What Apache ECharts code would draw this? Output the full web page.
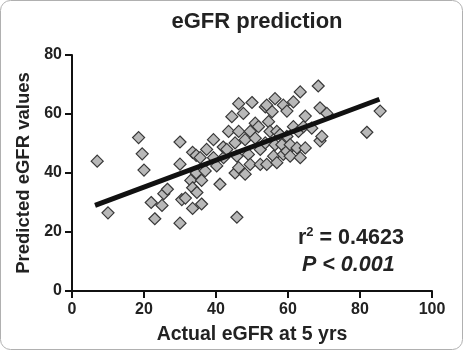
<!DOCTYPE html>
<html>
<head>
<meta charset="utf-8">
<script src="https://cdn.jsdelivr.net/npm/echarts@6/dist/echarts.min.js"></script>
<style>
  html, body { margin: 0; padding: 0; background: #fff; }
  #chart { width: 463px; height: 350px; }
</style>
</head>
<body>
<div id="chart"></div>
<script>
// actual eGFR at 5 yrs vs predicted eGFR
const points = [
  [7, 44], [10, 26.5], [18.5, 52], [19.5, 46.5], [20, 41], [22, 30], [23, 24.5],
  [25, 29], [25.5, 33], [26.5, 34.5], [30, 50.5], [30, 43], [30, 23], [30.5, 31],
  [31.5, 31.5], [33.5, 47], [33, 37.5], [33.5, 35], [33.5, 28], [34.5, 40], [34.5, 46],
  [36, 37.5], [36, 29.5], [34.7, 33.4], [35.6, 45.2], [37, 40.7], [37.4, 48],
  [39.3, 51.3], [39.3, 45.2], [40.2, 42.4], [41.1, 36.2], [42.1, 45.2], [42, 48.8],
  [43, 48], [43.5, 54.1], [44.4, 59.1], [45.3, 50.2], [45.3, 40], [45.8, 45.7],
  [45.8, 25], [46.3, 63.5], [46.3, 54.1], [46.3, 41.8], [47.6, 60.2], [48.1, 51.3],
  [48.1, 39.6], [49, 46.3], [49.5, 54.1], [49.5, 42.9], [50, 63.9], [50.9, 56.9],
  [50.9, 51.8], [51.8, 55.7], [52.3, 48], [52.3, 42.9], [53.7, 62.4], [53.7, 50.2],
  [54.1, 63], [54.1, 42.9], [54.6, 57.4], [55, 54.1], [55.6, 60.8], [56, 45.7],
  [56.4, 65.2], [56.4, 49.6], [56.9, 43.5], [56.9, 54.1], [57.8, 53], [58.3, 49.6],
  [58.7, 63], [58.7, 46.3], [59.7, 61], [59.7, 52.4], [59.7, 47.4], [60.6, 49.6],
  [60.6, 45.7], [61.5, 64.1], [61.5, 55.7], [62.5, 48.5], [62.9, 54.1], [63.4, 67.5],
  [63.4, 45.2], [64.3, 55.7], [64.8, 59.3], [64.8, 48.5], [66.6, 55.2], [68.4, 69.5],
  [68.9, 62.1], [68.9, 50.9], [69.4, 52.4], [70.8, 60.2], [81.9, 53.8], [85.6, 61]
];
// ends of the fitted regression line
const fitLine = [[6.4, 29.0], [85.4, 65.0]];
const xTicks = [0, 100, 20];
const yTicks = [0, 80, 20];
const r2Text = "0.4623";
const pText = "P < 0.001";

const chartDom = echarts.init(document.getElementById("chart"));
const font = "'Liberation Sans', Arial, sans-serif";
let option = {
  animation: false,
  title: {
    text: "eGFR prediction",
    left: 252,
    top: 6,
    textAlign: "center",
    textStyle: { fontFamily: font, fontSize: 22, fontWeight: "bold", color: "#222" },
  },
  grid: { left: 72, right: 31, top: 55, bottom: 55 },
  xAxis: {
    type: "value",
    min: xTicks[0],
    max: xTicks[1],
    interval: xTicks[2],
    name: "Actual eGFR at 5 yrs",
    nameLocation: "middle",
    nameGap: 34,
    nameTextStyle: { fontFamily: font, fontSize: 19.5, fontWeight: "bold", color: "#222" },
    axisLine: { onZero: false, lineStyle: { color: "#111", width: 2 } },
    axisTick: { length: 7, lineStyle: { color: "#111", width: 2 } },
    axisLabel: { margin: 11, fontFamily: font, fontSize: 16, fontWeight: "bold", color: "#222" },
    splitLine: { show: false },
  },
  yAxis: {
    type: "value",
    min: yTicks[0],
    max: yTicks[1],
    interval: yTicks[2],
    name: "Predicted eGFR values",
    nameLocation: "middle",
    nameGap: 37,
    nameTextStyle: { fontFamily: font, fontSize: 18.5, fontWeight: "bold", color: "#222" },
    axisLine: { show: true, onZero: false, lineStyle: { color: "#111", width: 2 } },
    axisTick: { show: true, length: 7, lineStyle: { color: "#111", width: 2 } },
    axisLabel: { margin: 10, fontFamily: font, fontSize: 16, fontWeight: "bold", color: "#222" },
    splitLine: { show: false },
  },
  series: [
    {
      type: "scatter",
      symbol: "diamond",
      symbolSize: [12, 12],
      data: points,
      itemStyle: { color: "#b8b8b8", borderColor: "#383838", borderWidth: 1.2, opacity: 1 },
      z: 2,
    },
    {
      type: "line",
      data: fitLine,
      showSymbol: false,
      symbol: "none",
      lineStyle: { color: "#111", width: 5 },
      z: 3,
    },
  ],
  graphic: [
    {
      type: "rect",
      shape: { x: 0.5, y: 0.5, width: 462, height: 349, r: 10 },
      style: { fill: "none", stroke: "#b0b0b0", lineWidth: 1 },
      silent: true,
    },
    {
      type: "text",
      left: 298,
      top: 226,
      style: {
        text: "{a|r}{s|2}{a| = " + r2Text + "}",
        rich: {
          a: { fontFamily: font, fontSize: 21.5, fontWeight: "bold", fill: "#222", lineHeight: 24 },
          s: { fontFamily: font, fontSize: 13, fontWeight: "bold", fill: "#222", verticalAlign: "top", lineHeight: 24 },
        },
      },
    },
    {
      type: "text",
      left: 302,
      top: 254,
      style: {
        text: pText,
        fontFamily: font,
        fontSize: 21.5,
        fontWeight: "bold",
        fontStyle: "italic",
        fill: "#222",
      },
    },
  ],
};
option && chartDom.setOption(option);
</script>
</body>
</html>
